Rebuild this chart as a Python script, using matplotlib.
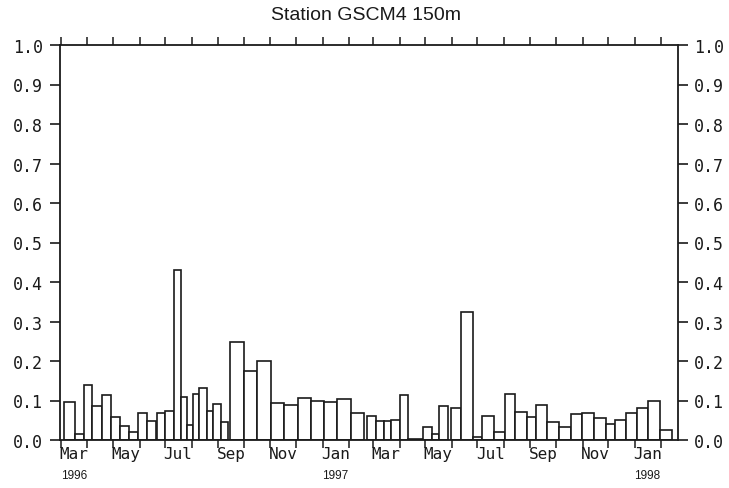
import numpy as np
import matplotlib
matplotlib.use("Agg")
import matplotlib.pyplot as plt
import matplotlib.dates as mdates
import matplotlib.transforms as mtransforms

# Sampling cups: collection start, collection end and measured flux
period_start = [
    "1996-03-05", "1996-03-18", "1996-03-28", "1996-04-07", "1996-04-18",
    "1996-04-29", "1996-05-09", "1996-05-20", "1996-05-30", "1996-06-10",
    "1996-06-22", "1996-07-01", "1996-07-11", "1996-07-19", "1996-07-26",
    "1996-08-02", "1996-08-10", "1996-08-19", "1996-08-26", "1996-09-04",
    "1996-09-15", "1996-10-01", "1996-10-16", "1996-11-02", "1996-11-17",
    "1996-12-03", "1996-12-19", "1997-01-03", "1997-01-18", "1997-02-03",
    "1997-02-22", "1997-03-05", "1997-03-14", "1997-03-22", "1997-04-01",
    "1997-04-11", "1997-04-28", "1997-05-09", "1997-05-17", "1997-05-31",
    "1997-06-12", "1997-06-26", "1997-07-07", "1997-07-21", "1997-08-02",
    "1997-08-14", "1997-08-28", "1997-09-08", "1997-09-21", "1997-10-05",
    "1997-10-18", "1997-10-31", "1997-11-14", "1997-11-28", "1997-12-09",
    "1997-12-22", "1998-01-04", "1998-01-17", "1998-01-31",
]
period_end = [
    "1996-03-18", "1996-03-28", "1996-04-07", "1996-04-18", "1996-04-29",
    "1996-05-09", "1996-05-20", "1996-05-30", "1996-06-10", "1996-06-20",
    "1996-07-01", "1996-07-11", "1996-07-19", "1996-07-26", "1996-08-02",
    "1996-08-10", "1996-08-19", "1996-08-26", "1996-09-04", "1996-09-12",
    "1996-10-01", "1996-10-16", "1996-11-02", "1996-11-17", "1996-12-03",
    "1996-12-19", "1997-01-03", "1997-01-18", "1997-02-03", "1997-02-19",
    "1997-03-05", "1997-03-14", "1997-03-22", "1997-04-01", "1997-04-11",
    "1997-04-28", "1997-05-09", "1997-05-17", "1997-05-28", "1997-06-12",
    "1997-06-26", "1997-07-07", "1997-07-21", "1997-08-02", "1997-08-14",
    "1997-08-28", "1997-09-08", "1997-09-21", "1997-10-05", "1997-10-18",
    "1997-10-31", "1997-11-14", "1997-11-28", "1997-12-09", "1997-12-22",
    "1998-01-04", "1998-01-17", "1998-01-31", "1998-02-14",
]
flux = [
    0.095, 0.016, 0.140, 0.086, 0.113,
    0.059, 0.036, 0.021, 0.069, 0.049,
    0.069, 0.074, 0.430, 0.110, 0.038,
    0.117, 0.131, 0.074, 0.091, 0.045,
    0.247, 0.175, 0.199, 0.093, 0.088,
    0.107, 0.100, 0.095, 0.104, 0.068,
    0.062, 0.049, 0.048, 0.051, 0.114,
    0.002, 0.032, 0.015, 0.087, 0.081,
    0.325, 0.008, 0.062, 0.021, 0.116,
    0.072, 0.058, 0.089, 0.046, 0.034,
    0.065, 0.069, 0.055, 0.040, 0.050,
    0.069, 0.081, 0.099, 0.026,
]

month_labels = ["Mar", "May", "Jul", "Sep", "Nov", "Jan",
                "Mar", "May", "Jul", "Sep", "Nov", "Jan"]
month_label_dates = ["1996-03-16", "1996-05-16", "1996-07-16", "1996-09-16",
                     "1996-11-16", "1997-01-16", "1997-03-16", "1997-05-16",
                     "1997-07-16", "1997-09-16", "1997-11-16", "1998-01-16"]
year_labels = ["1996", "1997", "1998"]
year_label_dates = ["1996-03-16", "1997-01-16", "1998-01-16"]

title = "Station GSCM4 150m"

# ---------------------------------------------------------------------------
def dnum(seq):
    return mdates.date2num(np.array(seq, dtype="datetime64[D]"))

left = dnum(period_start)
width = dnum(period_end) - left

ink = "#1a1a1a"
mono = "DejaVu Sans Mono"

fig = plt.figure(figsize=(7.29, 4.89), dpi=100)
ax = fig.add_axes([60 / 729, 1 - 441 / 489, 617.5 / 729, 395 / 489])

ax.bar(left, flux, width=width, align="edge", color="white",
       edgecolor=ink, linewidth=1.2, zorder=2)

ax.set_xlim(dnum(["1996-02-29"])[0], dnum(["1998-02-20"])[0])
ax.set_ylim(0, 1.0)

# y axis: labels on both sides
yt = np.round(np.arange(0, 1.01, 0.1), 1)
ax.set_yticks(yt)
ax.set_yticklabels([f"{v:.1f}" for v in yt], fontfamily=mono, fontsize=12)
ax.tick_params(axis="y", which="major", direction="out", length=7, width=1.2,
               left=True, right=True, labelleft=True, labelright=True,
               pad=5, color=ink, labelcolor=ink)

# x axis: month ticks, labels centred in every other month
month_ticks = mdates.date2num(np.arange(np.datetime64("1996-03"),
                                        np.datetime64("1998-03"),
                                        dtype="datetime64[M]").astype("datetime64[D]"))
ax.set_xticks(month_ticks)
ax.set_xticklabels([])
ax.tick_params(axis="x", which="major", direction="out", length=6, width=1.1,
               top=True, bottom=True, color=ink)
ax.set_xticks(dnum(month_label_dates), minor=True)
ax.set_xticklabels(month_labels, minor=True, fontfamily=mono, fontsize=11.5)
ax.tick_params(axis="x", which="minor", length=0, pad=4, labelcolor=ink)

trans = mtransforms.blended_transform_factory(ax.transData, fig.transFigure)
for lab, d in zip(year_labels, dnum(year_label_dates)):
    ax.text(d, 1 - 476 / 489, lab, transform=trans, ha="center", va="center",
            fontsize=8.5, fontfamily="Liberation Sans", color=ink)

for s in ax.spines.values():
    s.set_linewidth(1.3)
    s.set_color(ink)

fig.text(366 / 729, 1 - 16 / 489, title, ha="center", va="center",
         fontsize=14, fontfamily="Liberation Sans", color=ink)

fig.savefig("out.png", dpi=100)
